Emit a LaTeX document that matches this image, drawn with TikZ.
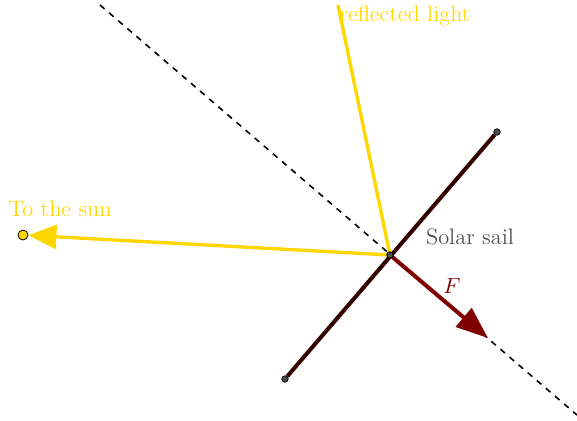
\documentclass[tikz,border=0pt]{standalone}
\usepackage{amsmath}
\usepackage{tikz}
\usetikzlibrary{arrows.meta}
\definecolor{sunyellow}{RGB}{255,215,0}
\definecolor{forcered}{RGB}{128,0,0}
\definecolor{sailbrown}{RGB}{51,0,0}
\definecolor{labelgray}{RGB}{77,77,77}

\begin{document}
\begin{tikzpicture}[x=0.5pt,y=-0.5pt,
	pt/.style={circle,draw=black,fill=labelgray,inner sep=0pt,minimum size=3.2pt},
	ray/.style={sunyellow,line width=1.7pt},
	lbl/.style={font=\fontsize{11.2}{13}\selectfont}]
	\useasboundingbox (0,0) rectangle (577,420);
	\coordinate(P) at (390,255);
	\coordinate(N1) at (100,5);
	\coordinate(N2) at (577,415);
	\coordinate(R) at (338,5);
	\coordinate(Ftip) at (488,338);
	\node[pt](A) at (497,132){};
	\node[pt](B) at (285,379){};
	\node[circle,draw=black,fill=sunyellow,inner sep=0pt,minimum size=5pt](S) at (23,235){};
	
	\draw[dashed,line width=0.8pt]  (N1)--(N2);
	\draw[ray]  (P)--(R);
	\draw[ray,-{Triangle[length=14pt,width=12pt]}]  (P)--(S);
	\draw[sailbrown,line width=2pt]  (A)--(B);
	\draw[forcered,line width=2pt,-{Triangle[length=16pt,width=12pt]}]  (P)--(Ftip);
	\node[pt](Pt) at (P){};
	
	\node[sunyellow,lbl](sun) at (60,209){To the sun};
	\node[sunyellow,lbl](refl) at (405,16){reflected light};
	\node[labelgray,lbl](sail) at (470,237){Solar sail};
	\node[forcered,lbl](F) at (452,286){$F$};
\end{tikzpicture}
\end{document}
